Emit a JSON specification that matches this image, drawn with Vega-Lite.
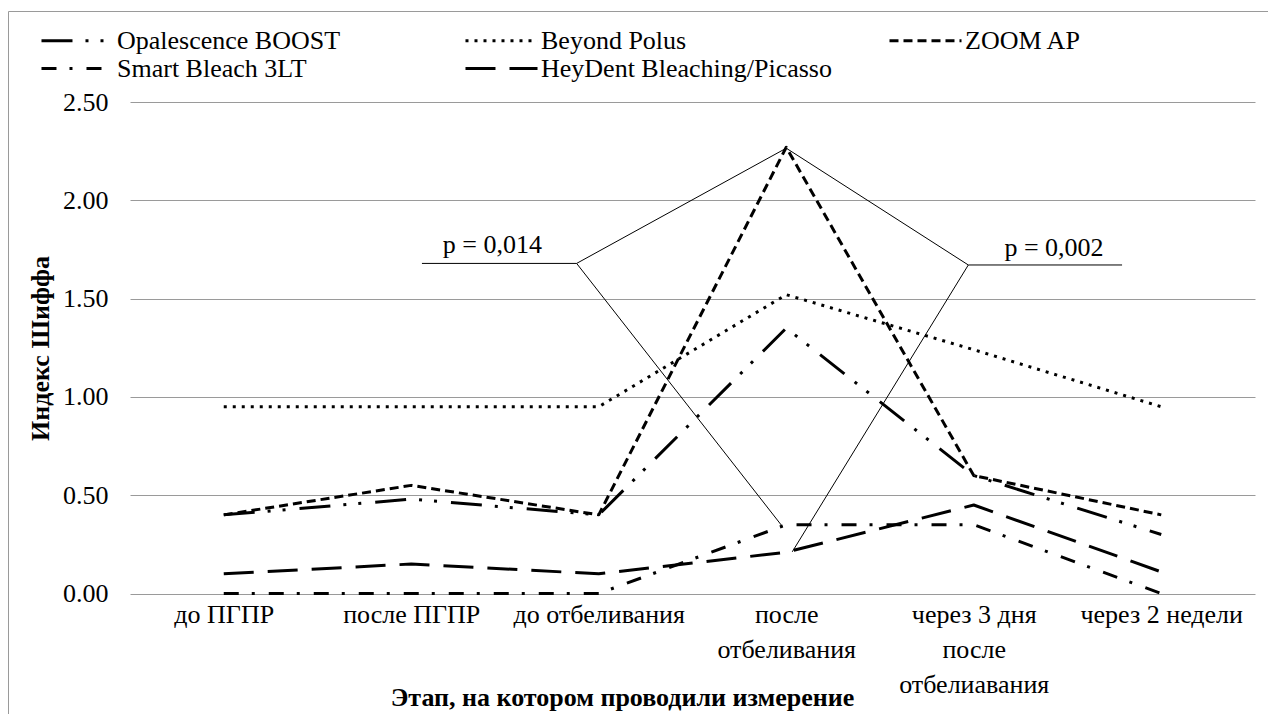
{
  "$schema": "https://vega.github.io/schema/vega-lite/v6.json",
  "width": 1260,
  "height": 703,
  "autosize": {"type": "none"},
  "padding": {"left": 8, "top": 11, "right": 0, "bottom": 0},
  "background": "white",
  "config": {
    "view": {"stroke": "#9a9a9a", "strokeWidth": 1},
    "font": "Liberation Serif",
    "axis": {"labelFont": "Liberation Serif", "titleFont": "Liberation Serif", "labelColor": "black", "titleColor": "black"}
  },
  "datasets": {
    "series": [
      {"stage": "до ПГПР", "series": "Opalescence BOOST", "value": 0.40},
      {"stage": "после ПГПР", "series": "Opalescence BOOST", "value": 0.48},
      {"stage": "до отбеливания", "series": "Opalescence BOOST", "value": 0.40},
      {"stage": "после отбеливания", "series": "Opalescence BOOST", "value": 1.35},
      {"stage": "через 3 дня после отбелиавания", "series": "Opalescence BOOST", "value": 0.60},
      {"stage": "через 2 недели", "series": "Opalescence BOOST", "value": 0.30},
      {"stage": "до ПГПР", "series": "Beyond Polus", "value": 0.95},
      {"stage": "после ПГПР", "series": "Beyond Polus", "value": 0.95},
      {"stage": "до отбеливания", "series": "Beyond Polus", "value": 0.95},
      {"stage": "после отбеливания", "series": "Beyond Polus", "value": 1.52},
      {"stage": "через 3 дня после отбелиавания", "series": "Beyond Polus", "value": 1.24},
      {"stage": "через 2 недели", "series": "Beyond Polus", "value": 0.95},
      {"stage": "до ПГПР", "series": "ZOOM AP", "value": 0.40},
      {"stage": "после ПГПР", "series": "ZOOM AP", "value": 0.55},
      {"stage": "до отбеливания", "series": "ZOOM AP", "value": 0.40},
      {"stage": "после отбеливания", "series": "ZOOM AP", "value": 2.27},
      {"stage": "через 3 дня после отбелиавания", "series": "ZOOM AP", "value": 0.60},
      {"stage": "через 2 недели", "series": "ZOOM AP", "value": 0.40},
      {"stage": "до ПГПР", "series": "Smart Bleach 3LT", "value": 0.00},
      {"stage": "после ПГПР", "series": "Smart Bleach 3LT", "value": 0.00},
      {"stage": "до отбеливания", "series": "Smart Bleach 3LT", "value": 0.00},
      {"stage": "после отбеливания", "series": "Smart Bleach 3LT", "value": 0.35},
      {"stage": "через 3 дня после отбелиавания", "series": "Smart Bleach 3LT", "value": 0.35},
      {"stage": "через 2 недели", "series": "Smart Bleach 3LT", "value": 0.00},
      {"stage": "до ПГПР", "series": "HeyDent Bleaching/Picasso", "value": 0.10},
      {"stage": "после ПГПР", "series": "HeyDent Bleaching/Picasso", "value": 0.15},
      {"stage": "до отбеливания", "series": "HeyDent Bleaching/Picasso", "value": 0.10},
      {"stage": "после отбеливания", "series": "HeyDent Bleaching/Picasso", "value": 0.21},
      {"stage": "через 3 дня после отбелиавания", "series": "HeyDent Bleaching/Picasso", "value": 0.45},
      {"stage": "через 2 недели", "series": "HeyDent Bleaching/Picasso", "value": 0.11}
    ],
    "brackets": [
      {"x": 1.057, "y": 1.679, "x2": 1.882, "y2": 1.679},
      {"x": 1.882, "y": 1.679, "x2": 3.0, "y2": 2.265},
      {"x": 1.882, "y": 1.679, "x2": 2.981, "y2": 0.339},
      {"x": 4.791, "y": 1.671, "x2": 3.971, "y2": 1.671},
      {"x": 3.971, "y": 1.671, "x2": 3.0, "y2": 2.265},
      {"x": 3.971, "y": 1.671, "x2": 3.032, "y2": 0.212}
    ],
    "labels": [
      {"x": 1.433, "y": 1.732, "text": "p = 0,014"},
      {"x": 4.428, "y": 1.717, "text": "p = 0,002"}
    ]
  },
  "layer": [
    {
      "data": {"name": "series"},
      "mark": {"type": "line", "interpolate": "linear", "strokeWidth": 3, "color": "black", "strokeCap": "butt", "strokeJoin": "round"},
      "encoding": {
        "x": {
          "field": "stage", "type": "ordinal", "sort": null,
          "scale": {"type": "point", "padding": 0.5, "range": [122, 1247]},
          "axis": {
            "title": "Этап, на котором проводили измерение", "offset": -121,
            "labelAngle": 0, "labelFontSize": 26, "labelPadding": 8, "labelLineHeight": 35,
            "labelExpr": "datum.label == 'после отбеливания' ? ['после', 'отбеливания'] : datum.label == 'через 3 дня после отбелиавания' ? ['через 3 дня', 'после', 'отбелиавания'] : datum.label",
            "ticks": false, "domain": false, "grid": false, "labelLimit": 400,
            "titleFontSize": 26, "titleFontWeight": "bold",
            "titleX": 614, "titleY": 104, "titleAnchor": "middle", "titleAlign": "center", "titleBaseline": "middle"
          }
        },
        "y": {
          "field": "value", "type": "quantitative", "title": "Индекс Шиффа",
          "scale": {"domain": [0, 2.5], "nice": false, "range": [582.5, 91]},
          "axis": {
            "values": [0, 0.5, 1, 1.5, 2, 2.5], "format": ".2f", "offset": -122,
            "labelFontSize": 26, "labelPadding": 22, "ticks": false, "domain": false,
            "grid": true, "gridColor": "#9a9a9a", "gridWidth": 1,
            "titleFontSize": 26, "titleFontWeight": "bold",
            "titleX": -90, "titleY": 337, "titleAngle": 270, "titleAlign": "center", "titleBaseline": "middle"
          }
        },
        "detail": {"field": "series"},
        "strokeDash": {
          "field": "series", "type": "nominal",
          "scale": {
            "domain": ["Opalescence BOOST", "Smart Bleach 3LT", "Beyond Polus", "HeyDent Bleaching/Picasso", "ZOOM AP"],
            "range": [[31, 13, 3, 12, 3, 14], [15, 13, 3, 14], [3, 6], [30, 14], [9, 5]]
          },
          "legend": {
            "title": null, "orient": "none", "legendX": 55, "legendY": 15,
            "columns": 3, "gridAlign": "all", "columnPadding": 51, "rowPadding": 0,
            "labelFont": "Liberation Serif", "labelFontSize": 26, "labelColor": "black", "labelOffset": 25, "labelLimit": 400,
            "symbolType": "M-2.77,0H2.77", "symbolSize": 676, "symbolStrokeWidth": 3, "symbolStrokeColor": "black"
          }
        }
      }
    },
    {
      "data": {"name": "brackets"},
      "mark": {"type": "rule", "color": "black", "strokeWidth": 1},
      "encoding": {
        "x": {"field": "x", "type": "quantitative", "scale": {"domain": [-0.5, 5.5], "nice": false, "zero": false, "range": [122, 1247]}, "axis": null},
        "x2": {"field": "x2"},
        "y": {"field": "y", "type": "quantitative", "title": "Индекс Шиффа"},
        "y2": {"field": "y2"}
      }
    },
    {
      "data": {"name": "labels"},
      "mark": {"type": "text", "font": "Liberation Serif", "fontSize": 26, "color": "black", "align": "center", "baseline": "alphabetic"},
      "encoding": {
        "x": {"field": "x", "type": "quantitative", "scale": {"domain": [-0.5, 5.5], "nice": false, "zero": false, "range": [122, 1247]}, "axis": null},
        "y": {"field": "y", "type": "quantitative", "title": "Индекс Шиффа"},
        "text": {"field": "text"}
      }
    }
  ],
  "resolve": {"scale": {"x": "independent"}}
}
